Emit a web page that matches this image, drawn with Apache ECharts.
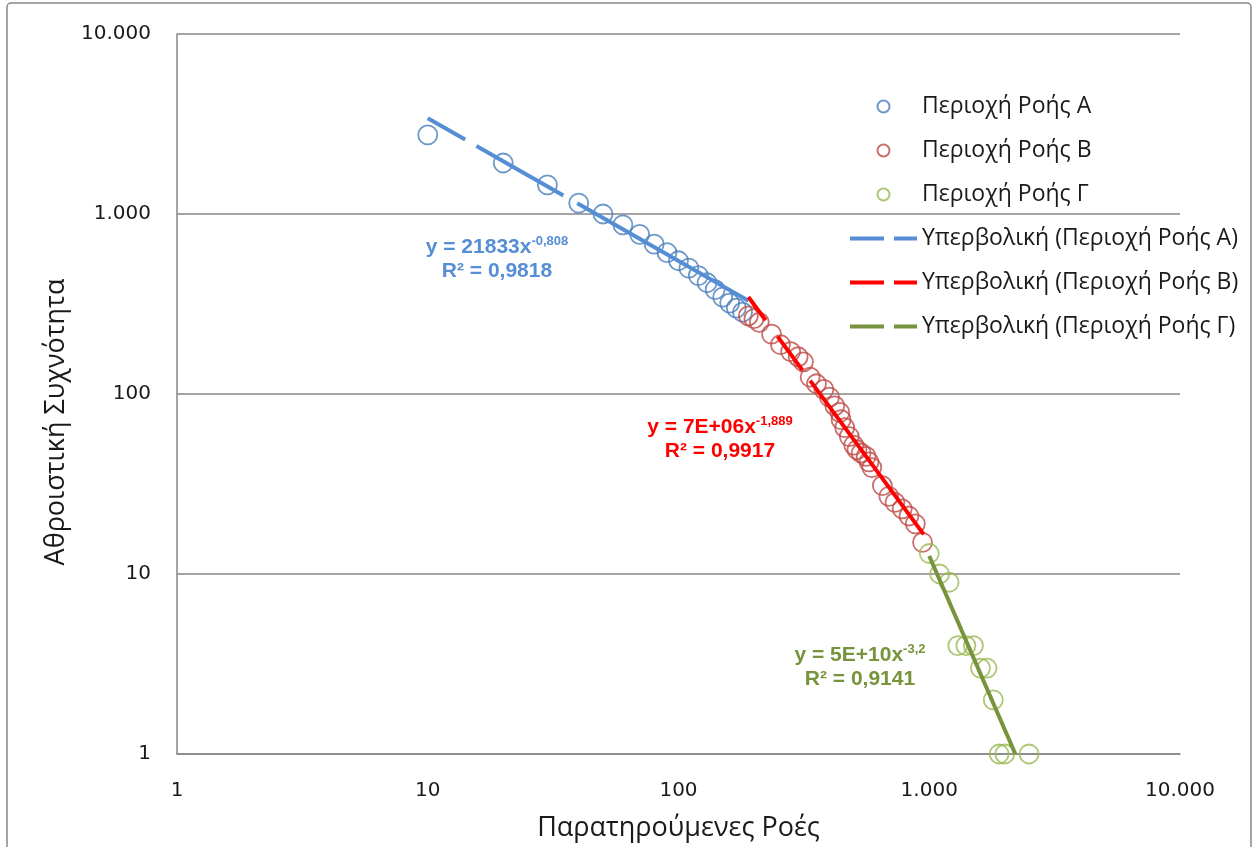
<!DOCTYPE html>
<html>
<head>
<meta charset="utf-8">
<script src="https://cdn.jsdelivr.net/npm/echarts@6/dist/echarts.min.js"></script>
<style>
  html, body { margin: 0; padding: 0; background: #fff; }
  #chart { width: 1258px; height: 847px; }
</style>
</head>
<body>
<div id="chart"></div>
<script>
// observed flows (x) and cumulative frequency (y), per flow region
var flowsA = [10, 20, 30, 40, 50, 60, 70, 80, 90, 100, 110, 120, 130, 140, 150, 160, 170, 180];
var freqA  = [2750, 1920, 1450, 1150, 1000, 870, 770, 680, 610, 550, 500, 455, 415, 380, 345, 320, 300, 285];

var flowsB = [190, 200, 210, 235, 255, 280, 300, 315, 335, 355, 380, 400, 420, 440, 445, 460, 480, 500, 515, 535, 560, 575, 590, 650, 690, 730, 780, 830, 880, 940];
var freqB  = [272, 262, 250, 215, 188, 172, 161, 151, 124, 114, 106, 96, 86, 79, 72, 65, 58, 52, 49, 47, 45, 42, 39, 31, 27, 25, 23, 21, 19, 15];

var flowsC = [1000, 1100, 1200, 1300, 1400, 1500, 1600, 1700, 1800, 1900, 2000, 2500];
var freqC  = [13, 10, 9, 4, 4, 4, 3, 3, 2, 1, 1, 1];

// power trendline end points (x, y) as drawn
var trendA = [[10, 3400], [190, 330]];
var trendB = [[190, 346], [950, 16.6]];
var trendC = [[1000, 12.6], [2205, 1]];

var axisTicks = [1, 10, 100, 1000, 10000];

var names = ['Περιοχή Ροής Α', 'Περιοχή Ροής Β', 'Περιοχή Ροής Γ'];
var trendNames = ['Υπερβολική (Περιοχή Ροής Α)', 'Υπερβολική (Περιοχή Ροής Β)', 'Υπερβολική (Περιοχή Ροής Γ)'];

var markerColors = ['#4a7ebb', '#be4b48', '#98b954'];
var trendColors = ['#558ed5', '#ff0000', '#77933c'];
var font = 'Open Sans';
var tickFont = 'DejaVu Sans';

function pairs(xs, ys) {
  return xs.map(function (x, i) { return [x, ys[i]]; });
}
function fmt(v) {
  var n = Math.round(v);
  return String(n).replace(/\B(?=(\d{3})+(?!\d))/g, '.');
}
function scatter(i, xs, ys) {
  return {
    name: names[i], type: 'scatter', clip: false, z: 2,
    symbol: 'circle', symbolSize: 19,
    itemStyle: { color: 'rgba(255,255,255,0)', borderColor: markerColors[i], borderWidth: 1.8 },
    data: pairs(xs, ys)
  };
}
function trend(i, pts, dash) {
  return {
    name: trendNames[i], type: 'line', z: 5, symbol: 'none', silent: true,
    lineStyle: { color: trendColors[i], width: 4, type: dash, cap: 'butt' },
    itemStyle: { color: trendColors[i] },
    data: pts
  };
}
function eqLabel(x, y, color, a, b, r) {
  var m = { fill: color, fontSize: 21, fontWeight: 'bold', fontFamily: 'Liberation Sans', lineHeight: 24 };
  var s = { fill: color, fontSize: 13, fontWeight: 'bold', fontFamily: 'Liberation Sans', lineHeight: 14, verticalAlign: 'top' };
  return {
    type: 'text', x: x, y: y, z: 10,
    style: {
      text: '{m|' + a + '}{s|' + b + '}\n{m|' + r + '}',
      rich: { m: m, s: s },
      align: 'center', verticalAlign: 'top'
    }
  };
}

var legendLine = { width: 4, type: [34, 10] };
var noSymbol = { opacity: 0 };

var option = {
  backgroundColor: '#fff',
  animation: false,
  grid: { left: 177, right: 78, top: 34, bottom: 92 },
  xAxis: {
    type: 'log', logBase: 10, min: axisTicks[0], max: axisTicks[axisTicks.length - 1],
    name: 'Παρατηρούμενες Ροές', nameLocation: 'middle', nameGap: 61,
    nameTextStyle: { fontFamily: font, fontSize: 27, color: '#1a1a1a' },
    axisLine: { show: true, lineStyle: { color: '#868686', width: 1.5 } },
    axisTick: { show: false },
    splitLine: { show: false },
    axisLabel: { margin: 27, fontFamily: tickFont, fontSize: 20, color: '#1a1a1a', formatter: fmt }
  },
  yAxis: {
    type: 'log', logBase: 10, min: axisTicks[0], max: axisTicks[axisTicks.length - 1],
    name: 'Αθροιστική Συχνότητα', nameLocation: 'middle', nameGap: 97, nameRotate: 90,
    nameTextStyle: { fontFamily: font, fontSize: 27, color: '#1a1a1a', padding: [0, 56, 0, 0] },
    axisLine: { show: true, lineStyle: { color: '#868686', width: 1.5 } },
    axisTick: { show: false },
    splitLine: { show: true, lineStyle: { color: '#868686', width: 1.5 } },
    axisLabel: { margin: 26, fontFamily: tickFont, fontSize: 20, color: '#1a1a1a', formatter: fmt }
  },
  legend: {
    orient: 'vertical', left: 843, top: 89,
    itemWidth: 67, itemHeight: 12, itemGap: 19,
    textStyle: { fontFamily: font, fontSize: 23, color: '#1a1a1a', lineHeight: 25, padding: [0, 0, 0, 0] },
    data: [
      { name: names[0] }, { name: names[1] }, { name: names[2] },
      { name: trendNames[0], lineStyle: legendLine, itemStyle: noSymbol },
      { name: trendNames[1], lineStyle: legendLine, itemStyle: noSymbol },
      { name: trendNames[2], lineStyle: legendLine, itemStyle: noSymbol }
    ]
  },
  graphic: [
    { type: 'rect', z: -1, silent: true, shape: { x: 7, y: 3, width: 1244, height: 860, r: 4 },
      style: { fill: 'none', stroke: '#878787', lineWidth: 1.5 } },
    eqLabel(497, 235, trendColors[0], 'y = 21833x', '-0,808', 'R² = 0,9818'),
    eqLabel(720, 415, trendColors[1], 'y = 7E+06x', '-1,889', 'R² = 0,9917'),
    eqLabel(860, 643, trendColors[2], 'y = 5E+10x', '-3,2', 'R² = 0,9141')
  ],
  series: [
    scatter(0, flowsA, freqA),
    scatter(1, flowsB, freqB),
    scatter(2, flowsC, freqC),
    trend(0, trendA, [43, 13, 100, 16, 1000, 0]),
    trend(1, trendB, [29, 20, 42, 13, 1000, 0]),
    trend(2, trendC, 'solid')
  ]
};

var chart = echarts.init(document.getElementById('chart'));
chart.setOption(option);
</script>
</body>
</html>
